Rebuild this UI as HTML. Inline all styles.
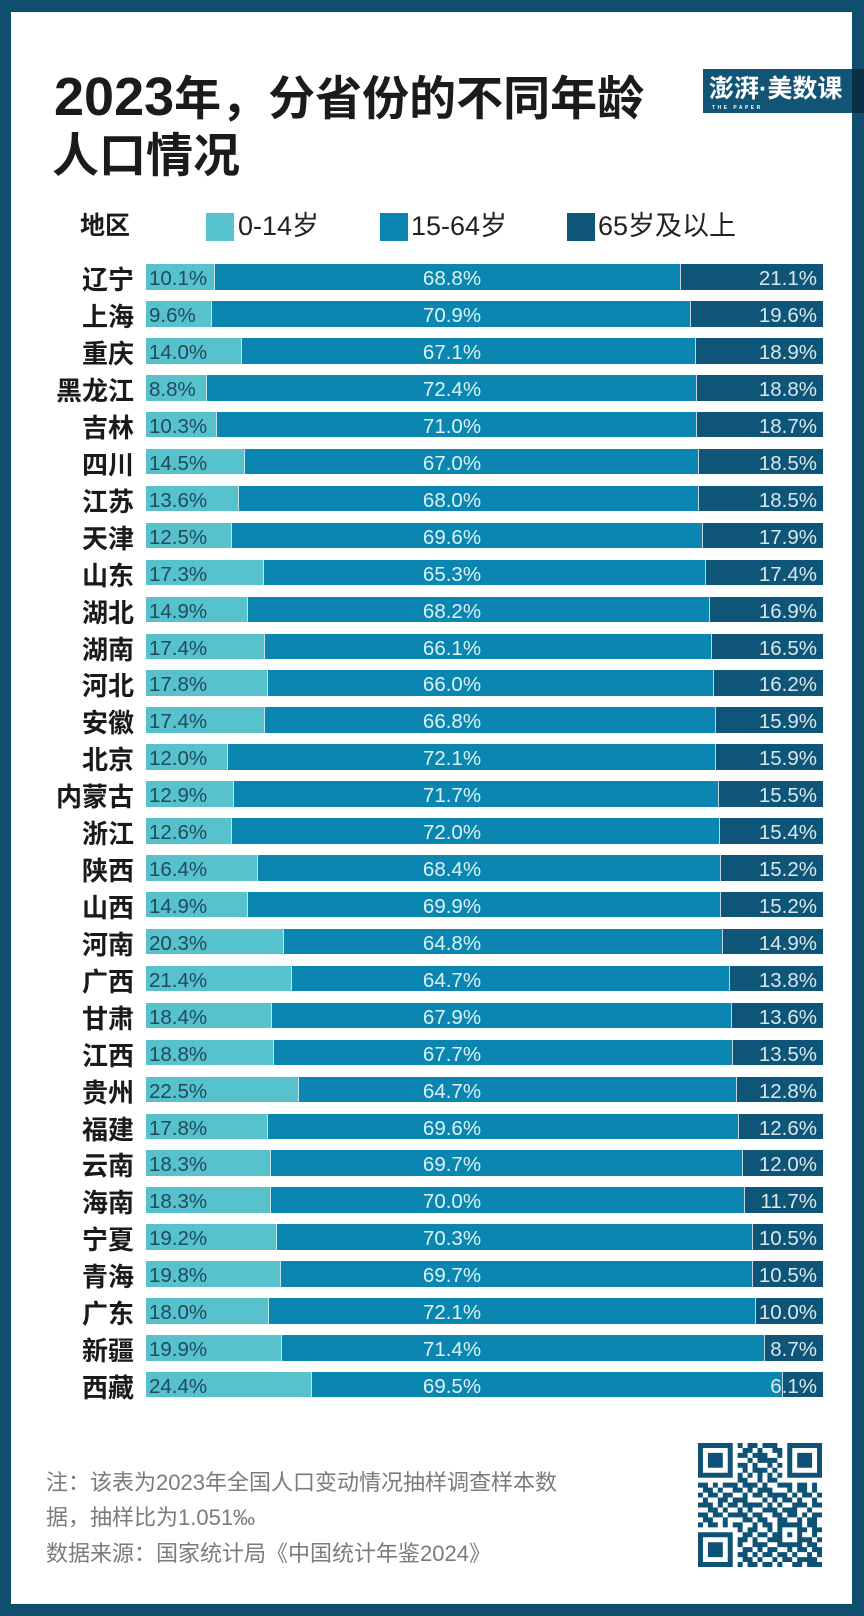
<!DOCTYPE html>
<html><head><meta charset="utf-8">
<style>
*{margin:0;padding:0;box-sizing:border-box}
html,body{width:864px;height:1616px;overflow:hidden;background:#0f4f6d}
#page{position:relative;width:864px;height:1616px;background:#0f4f6d;font-family:"Liberation Sans","Noto Sans CJK SC",sans-serif}
#inner{position:absolute;left:11px;top:12px;width:841px;height:1592px;background:#fff}
.abs{position:absolute;white-space:nowrap}
.title{font-size:47px;font-weight:bold;color:#1b1b1b;line-height:60px}
.title .d{font-size:54px;line-height:0}
.leg{font-size:27px;color:#222;line-height:30px}
.sw{position:absolute;top:213px;width:28px;height:28px}
#rows{position:absolute;left:0;top:264.3px;width:864px}
.row{position:relative;height:36.93px}
.lab{position:absolute;left:0;top:0;width:134px;text-align:right;font-size:26px;font-weight:bold;color:#1a1a1a;line-height:33px;white-space:nowrap}
.bar{position:absolute;left:146px;top:0;width:677px;height:25.5px;display:flex}
.s1{background:#57c1cc}
.s2{background:#0b86b0;box-shadow:inset 1px 0 0 rgba(255,255,255,.75)}
.s3{background:#0e5577;box-shadow:inset 1px 0 0 rgba(255,255,255,.75)}
.t{position:absolute;top:0;font-size:20.5px;line-height:30px;white-space:nowrap}
.t1{left:3px;color:#1d4c5c}
.t2{left:206px;width:200px;text-align:center;color:#dcf2f7}
.t3{right:6px;color:#d8e8ef}
.foot{font-size:22px;line-height:30px;color:#7b7b7b}
</style></head>
<body><div id="page">
<div id="inner"></div>

<div class="abs title" style="left:54px;top:68.7px"><span class="d">2023</span>年，分省份的不同年龄</div>
<div class="abs title" style="left:52px;top:125.7px">人口情况</div>

<div class="abs" style="left:703px;top:69px;width:149px;height:44px;background:#115476"></div>
<div class="abs" style="left:852px;top:69px;width:12px;height:44px;background:#0b2f45"></div>
<div class="abs" style="left:709px;top:74.3px;font-size:25px;line-height:30px;color:#fff;font-weight:bold">澎湃·美数课</div>
<div class="abs" style="left:712px;top:104px;font-size:5px;line-height:8px;color:#fff;font-weight:bold;letter-spacing:2.5px">THE PAPER</div>

<div class="abs" style="left:80px;top:210.8px;font-size:25px;font-weight:bold;line-height:30px;color:#1a1a1a">地区</div>
<div class="sw" style="left:206px;background:#57c1cc"></div>
<div class="abs leg" style="left:238px;top:210.6px">0-14岁</div>
<div class="sw" style="left:380px;background:#0b86b0"></div>
<div class="abs leg" style="left:411px;top:210.6px">15-64岁</div>
<div class="sw" style="left:567px;background:#0e5577"></div>
<div class="abs leg" style="left:598px;top:210.6px">65岁及以上</div>

<div id="rows">
<div class="row"><div class="lab">辽宁</div><div class="bar"><div class="s1" style="flex:10.1 0 0"></div><div class="s2" style="flex:68.8 0 0"></div><div class="s3" style="flex:21.1 0 0"></div><span class="t t1">10.1%</span><span class="t t2">68.8%</span><span class="t t3">21.1%</span></div></div>
<div class="row"><div class="lab">上海</div><div class="bar"><div class="s1" style="flex:9.6 0 0"></div><div class="s2" style="flex:70.9 0 0"></div><div class="s3" style="flex:19.6 0 0"></div><span class="t t1">9.6%</span><span class="t t2">70.9%</span><span class="t t3">19.6%</span></div></div>
<div class="row"><div class="lab">重庆</div><div class="bar"><div class="s1" style="flex:14.0 0 0"></div><div class="s2" style="flex:67.1 0 0"></div><div class="s3" style="flex:18.9 0 0"></div><span class="t t1">14.0%</span><span class="t t2">67.1%</span><span class="t t3">18.9%</span></div></div>
<div class="row"><div class="lab">黑龙江</div><div class="bar"><div class="s1" style="flex:8.8 0 0"></div><div class="s2" style="flex:72.4 0 0"></div><div class="s3" style="flex:18.8 0 0"></div><span class="t t1">8.8%</span><span class="t t2">72.4%</span><span class="t t3">18.8%</span></div></div>
<div class="row"><div class="lab">吉林</div><div class="bar"><div class="s1" style="flex:10.3 0 0"></div><div class="s2" style="flex:71.0 0 0"></div><div class="s3" style="flex:18.7 0 0"></div><span class="t t1">10.3%</span><span class="t t2">71.0%</span><span class="t t3">18.7%</span></div></div>
<div class="row"><div class="lab">四川</div><div class="bar"><div class="s1" style="flex:14.5 0 0"></div><div class="s2" style="flex:67.0 0 0"></div><div class="s3" style="flex:18.5 0 0"></div><span class="t t1">14.5%</span><span class="t t2">67.0%</span><span class="t t3">18.5%</span></div></div>
<div class="row"><div class="lab">江苏</div><div class="bar"><div class="s1" style="flex:13.6 0 0"></div><div class="s2" style="flex:68.0 0 0"></div><div class="s3" style="flex:18.5 0 0"></div><span class="t t1">13.6%</span><span class="t t2">68.0%</span><span class="t t3">18.5%</span></div></div>
<div class="row"><div class="lab">天津</div><div class="bar"><div class="s1" style="flex:12.5 0 0"></div><div class="s2" style="flex:69.6 0 0"></div><div class="s3" style="flex:17.9 0 0"></div><span class="t t1">12.5%</span><span class="t t2">69.6%</span><span class="t t3">17.9%</span></div></div>
<div class="row"><div class="lab">山东</div><div class="bar"><div class="s1" style="flex:17.3 0 0"></div><div class="s2" style="flex:65.3 0 0"></div><div class="s3" style="flex:17.4 0 0"></div><span class="t t1">17.3%</span><span class="t t2">65.3%</span><span class="t t3">17.4%</span></div></div>
<div class="row"><div class="lab">湖北</div><div class="bar"><div class="s1" style="flex:14.9 0 0"></div><div class="s2" style="flex:68.2 0 0"></div><div class="s3" style="flex:16.9 0 0"></div><span class="t t1">14.9%</span><span class="t t2">68.2%</span><span class="t t3">16.9%</span></div></div>
<div class="row"><div class="lab">湖南</div><div class="bar"><div class="s1" style="flex:17.4 0 0"></div><div class="s2" style="flex:66.1 0 0"></div><div class="s3" style="flex:16.5 0 0"></div><span class="t t1">17.4%</span><span class="t t2">66.1%</span><span class="t t3">16.5%</span></div></div>
<div class="row"><div class="lab">河北</div><div class="bar"><div class="s1" style="flex:17.8 0 0"></div><div class="s2" style="flex:66.0 0 0"></div><div class="s3" style="flex:16.2 0 0"></div><span class="t t1">17.8%</span><span class="t t2">66.0%</span><span class="t t3">16.2%</span></div></div>
<div class="row"><div class="lab">安徽</div><div class="bar"><div class="s1" style="flex:17.4 0 0"></div><div class="s2" style="flex:66.8 0 0"></div><div class="s3" style="flex:15.9 0 0"></div><span class="t t1">17.4%</span><span class="t t2">66.8%</span><span class="t t3">15.9%</span></div></div>
<div class="row"><div class="lab">北京</div><div class="bar"><div class="s1" style="flex:12.0 0 0"></div><div class="s2" style="flex:72.1 0 0"></div><div class="s3" style="flex:15.9 0 0"></div><span class="t t1">12.0%</span><span class="t t2">72.1%</span><span class="t t3">15.9%</span></div></div>
<div class="row"><div class="lab">内蒙古</div><div class="bar"><div class="s1" style="flex:12.9 0 0"></div><div class="s2" style="flex:71.7 0 0"></div><div class="s3" style="flex:15.5 0 0"></div><span class="t t1">12.9%</span><span class="t t2">71.7%</span><span class="t t3">15.5%</span></div></div>
<div class="row"><div class="lab">浙江</div><div class="bar"><div class="s1" style="flex:12.6 0 0"></div><div class="s2" style="flex:72.0 0 0"></div><div class="s3" style="flex:15.4 0 0"></div><span class="t t1">12.6%</span><span class="t t2">72.0%</span><span class="t t3">15.4%</span></div></div>
<div class="row"><div class="lab">陕西</div><div class="bar"><div class="s1" style="flex:16.4 0 0"></div><div class="s2" style="flex:68.4 0 0"></div><div class="s3" style="flex:15.2 0 0"></div><span class="t t1">16.4%</span><span class="t t2">68.4%</span><span class="t t3">15.2%</span></div></div>
<div class="row"><div class="lab">山西</div><div class="bar"><div class="s1" style="flex:14.9 0 0"></div><div class="s2" style="flex:69.9 0 0"></div><div class="s3" style="flex:15.2 0 0"></div><span class="t t1">14.9%</span><span class="t t2">69.9%</span><span class="t t3">15.2%</span></div></div>
<div class="row"><div class="lab">河南</div><div class="bar"><div class="s1" style="flex:20.3 0 0"></div><div class="s2" style="flex:64.8 0 0"></div><div class="s3" style="flex:14.9 0 0"></div><span class="t t1">20.3%</span><span class="t t2">64.8%</span><span class="t t3">14.9%</span></div></div>
<div class="row"><div class="lab">广西</div><div class="bar"><div class="s1" style="flex:21.4 0 0"></div><div class="s2" style="flex:64.7 0 0"></div><div class="s3" style="flex:13.8 0 0"></div><span class="t t1">21.4%</span><span class="t t2">64.7%</span><span class="t t3">13.8%</span></div></div>
<div class="row"><div class="lab">甘肃</div><div class="bar"><div class="s1" style="flex:18.4 0 0"></div><div class="s2" style="flex:67.9 0 0"></div><div class="s3" style="flex:13.6 0 0"></div><span class="t t1">18.4%</span><span class="t t2">67.9%</span><span class="t t3">13.6%</span></div></div>
<div class="row"><div class="lab">江西</div><div class="bar"><div class="s1" style="flex:18.8 0 0"></div><div class="s2" style="flex:67.7 0 0"></div><div class="s3" style="flex:13.5 0 0"></div><span class="t t1">18.8%</span><span class="t t2">67.7%</span><span class="t t3">13.5%</span></div></div>
<div class="row"><div class="lab">贵州</div><div class="bar"><div class="s1" style="flex:22.5 0 0"></div><div class="s2" style="flex:64.7 0 0"></div><div class="s3" style="flex:12.8 0 0"></div><span class="t t1">22.5%</span><span class="t t2">64.7%</span><span class="t t3">12.8%</span></div></div>
<div class="row"><div class="lab">福建</div><div class="bar"><div class="s1" style="flex:17.8 0 0"></div><div class="s2" style="flex:69.6 0 0"></div><div class="s3" style="flex:12.6 0 0"></div><span class="t t1">17.8%</span><span class="t t2">69.6%</span><span class="t t3">12.6%</span></div></div>
<div class="row"><div class="lab">云南</div><div class="bar"><div class="s1" style="flex:18.3 0 0"></div><div class="s2" style="flex:69.7 0 0"></div><div class="s3" style="flex:12.0 0 0"></div><span class="t t1">18.3%</span><span class="t t2">69.7%</span><span class="t t3">12.0%</span></div></div>
<div class="row"><div class="lab">海南</div><div class="bar"><div class="s1" style="flex:18.3 0 0"></div><div class="s2" style="flex:70.0 0 0"></div><div class="s3" style="flex:11.7 0 0"></div><span class="t t1">18.3%</span><span class="t t2">70.0%</span><span class="t t3">11.7%</span></div></div>
<div class="row"><div class="lab">宁夏</div><div class="bar"><div class="s1" style="flex:19.2 0 0"></div><div class="s2" style="flex:70.3 0 0"></div><div class="s3" style="flex:10.5 0 0"></div><span class="t t1">19.2%</span><span class="t t2">70.3%</span><span class="t t3">10.5%</span></div></div>
<div class="row"><div class="lab">青海</div><div class="bar"><div class="s1" style="flex:19.8 0 0"></div><div class="s2" style="flex:69.7 0 0"></div><div class="s3" style="flex:10.5 0 0"></div><span class="t t1">19.8%</span><span class="t t2">69.7%</span><span class="t t3">10.5%</span></div></div>
<div class="row"><div class="lab">广东</div><div class="bar"><div class="s1" style="flex:18.0 0 0"></div><div class="s2" style="flex:72.1 0 0"></div><div class="s3" style="flex:10.0 0 0"></div><span class="t t1">18.0%</span><span class="t t2">72.1%</span><span class="t t3">10.0%</span></div></div>
<div class="row"><div class="lab">新疆</div><div class="bar"><div class="s1" style="flex:19.9 0 0"></div><div class="s2" style="flex:71.4 0 0"></div><div class="s3" style="flex:8.7 0 0"></div><span class="t t1">19.9%</span><span class="t t2">71.4%</span><span class="t t3">8.7%</span></div></div>
<div class="row"><div class="lab">西藏</div><div class="bar"><div class="s1" style="flex:24.4 0 0"></div><div class="s2" style="flex:69.5 0 0"></div><div class="s3" style="flex:6.1 0 0"></div><span class="t t1">24.4%</span><span class="t t2">69.5%</span><span class="t t3">6.1%</span></div></div>
</div>

<div class="abs foot" style="left:46px;top:1468.4px">注：该表为2023年全国人口变动情况抽样调查样本数</div>
<div class="abs foot" style="left:46px;top:1503.4px">据，抽样比为1.051‰</div>
<div class="abs foot" style="left:46px;top:1539.4px">数据来源：国家统计局《中国统计年鉴2024》</div>

<svg class="abs" style="left:698px;top:1443px" width="124" height="124" viewBox="0 0 25 25">
<g fill="#0e5276">
<path fill-rule="evenodd" d="M0 0h7v7h-7z M1 1v5h5v-5z M2 2h3v3h-3z M18 0h7v7h-7z M19 1v5h5v-5z M20 2h3v3h-3z M0 18h7v7h-7z M1 19v5h5v-5z M2 20h3v3h-3z"/>
<path d="
M8 0h1v1h-1z M10 0h2v1h-2z M13 0h3v1h-3z
M9 1h2v1h-2z M12 1h1v1h-1z M15 1h2v1h-2z
M8 2h2v1h-2z M11 2h3v1h-3z M16 2h1v1h-1z
M10 3h1v1h-1z M12 3h4v1h-4z
M8 4h2v1h-2z M11 4h1v1h-1z M14 4h1v1h-1z M16 4h1v1h-1z
M9 5h1v1h-1z M11 5h3v1h-3z M15 5h1v1h-1z
M8 6h1v1h-1z M10 6h1v1h-1z M12 6h1v1h-1z M14 6h1v1h-1z M16 6h1v1h-1z
M8 7h2v1h-2z M12 7h1v1h-1z M14 7h2v1h-2z
M0 8h2v1h-2z M3 8h1v1h-1z M5 8h3v1h-3z M9 8h3v1h-3z M13 8h1v1h-1z M16 8h3v1h-3z M20 8h2v1h-2z M23 8h1v1h-1z
M1 9h2v1h-2z M4 9h1v1h-1z M7 9h2v1h-2z M10 9h1v1h-1z M12 9h3v1h-3z M18 9h1v1h-1z M20 9h2v1h-2z M23 9h1v1h-1z
M0 10h1v1h-1z M2 10h2v1h-2z M5 10h2v1h-2z M9 10h1v1h-1z M11 10h2v1h-2z M14 10h4v1h-4z M19 10h1v1h-1z M21 10h2v1h-2z M24 10h1v1h-1z
M1 11h1v1h-1z M4 11h2v1h-2z M7 11h3v1h-3z M13 11h1v1h-1z M15 11h1v1h-1z M17 11h2v1h-2z M20 11h1v1h-1z M23 11h1v1h-1z
M0 12h3v1h-3z M4 12h1v1h-1z M6 12h2v1h-2z M9 12h4v1h-4z M14 12h1v1h-1z M16 12h1v1h-1z M19 12h3v1h-3z M23 12h2v1h-2z
M2 13h2v1h-2z M5 13h1v1h-1z M8 13h1v1h-1z M10 13h1v1h-1z M13 13h3v1h-3z M17 13h3v1h-3z M22 13h1v1h-1z
M0 14h2v1h-2z M3 14h2v1h-2z M6 14h4v1h-4z M11 14h2v1h-2z M15 14h2v1h-2z M18 14h2v1h-2z M21 14h1v1h-1z M23 14h2v1h-2z
M1 15h2v1h-2z M5 15h1v1h-1z M9 15h2v1h-2z M12 15h2v1h-2z M16 15h2v1h-2z M20 15h1v1h-1z M22 15h2v1h-2z
M0 16h1v1h-1z M2 16h2v1h-2z M5 16h1v1h-1z M7 16h2v1h-2z M11 16h1v1h-1z M13 16h2v1h-2z M16 16h5v1h-5z M22 16h2v1h-2z
M8 17h1v1h-1z M10 17h2v1h-2z M14 17h1v1h-1z M16 17h1v1h-1z M20 17h2v1h-2z M23 17h2v1h-2z
M9 18h2v1h-2z M12 18h2v1h-2z M15 18h2v1h-2z M18 18h1v1h-1z M20 18h1v1h-1z M23 18h1v1h-1z
M8 19h2v1h-2z M11 19h1v1h-1z M14 19h3v1h-3z M20 19h3v1h-3z M24 19h1v1h-1z
M8 20h1v1h-1z M11 20h3v1h-3z M16 20h5v1h-5z M22 20h2v1h-2z
M9 21h2v1h-2z M12 21h1v1h-1z M14 21h2v1h-2z M18 21h1v1h-1z M20 21h2v1h-2z M23 21h2v1h-2z
M8 22h2v1h-2z M11 22h1v1h-1z M13 22h2v1h-2z M16 22h2v1h-2z M19 22h1v1h-1z M22 22h1v1h-1z M24 22h1v1h-1z
M9 23h2v1h-2z M12 23h1v1h-1z M15 23h1v1h-1z M17 23h2v1h-2z M20 23h4v1h-4z
M8 24h1v1h-1z M10 24h2v1h-2z M13 24h2v1h-2z M16 24h1v1h-1z M19 24h2v1h-2z M22 24h3v1h-3z"/>
</g>
</svg>

</div></body></html>
